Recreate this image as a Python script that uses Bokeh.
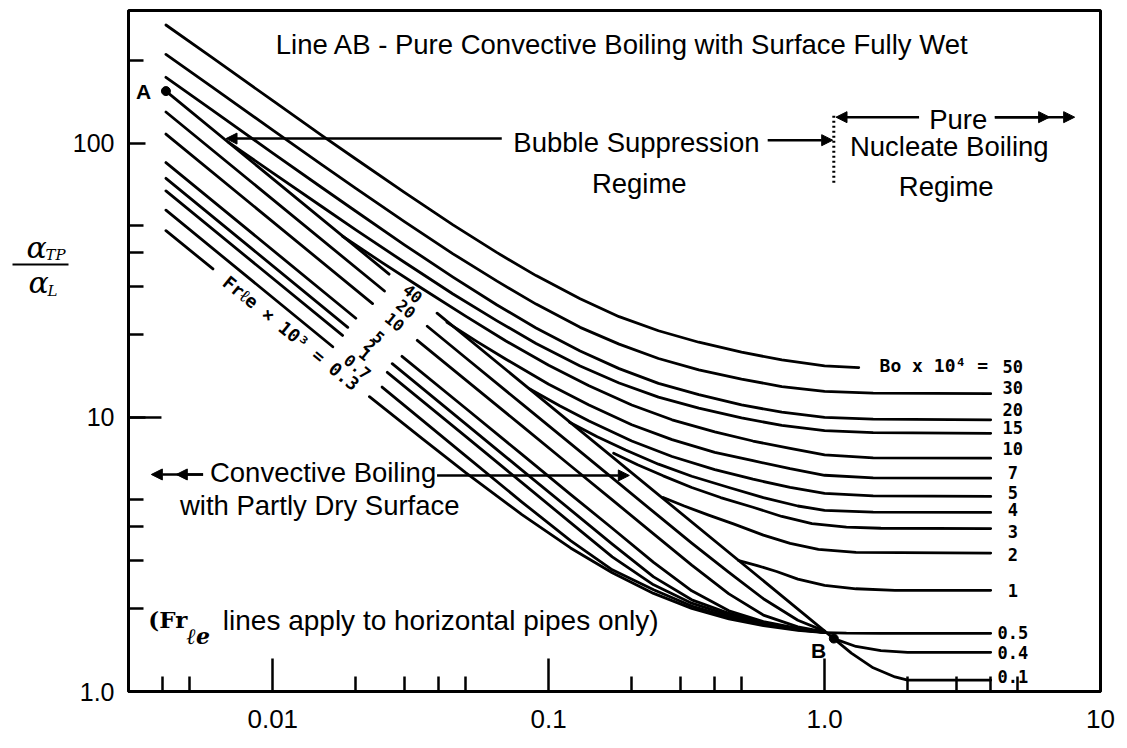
from bokeh.plotting import figure
from bokeh.layouts import row
from bokeh.models import FixedTicker, Arrow, NormalHead, Range1d
from bokeh.core.properties import value
from bokeh.embed import file_html
from bokeh.resources import INLINE

# ---------------- axes ----------------
X_MAJOR = [0.01, 0.1, 1, 10]
X_MINOR = [0.004, 0.005, 0.02, 0.03, 0.04, 0.05, 0.2, 0.3, 0.4, 0.5, 2, 3, 4, 5]
Y_MAJOR = [1, 10, 100]
Y_MINOR = [2, 3, 4, 5, 20, 30, 40, 50, 200]

# ---------------- line AB (also Fr x 10^3 = 40), broken for its label ----------------
AB_X1 = [0.0041, 0.0264]
AB_Y1 = [155, 33.3]
AB_X2 = [0.0394, 1.08]
AB_Y2 = [24.0, 1.56]

# ---------------- Bo x 10^4 curves ----------------
BO50_X = [0.0041, 0.006, 0.01, 0.015, 0.02, 0.03, 0.045, 0.065, 0.09, 0.13, 0.18, 0.25, 0.35, 0.5, 0.7, 1.0, 1.33]
BO50_Y = [270, 206, 143, 107, 87.6, 66.2, 50.4, 39.9, 32.9, 27.1, 23.3, 20.7, 18.8, 17.3, 16.2, 15.4, 15.2]
BO30_X = [0.0041, 0.006, 0.01, 0.015, 0.02, 0.03, 0.045, 0.065, 0.09, 0.13, 0.18, 0.25, 0.35, 0.5, 0.7, 1.0, 1.5, 4.0]
BO30_Y = [211, 161, 111.7, 83.8, 68.5, 51.8, 39.5, 31.4, 25.9, 21.3, 18.5, 16.4, 14.9, 13.8, 12.95, 12.45, 12.25, 12.2]
BO20_X = [0.0041, 0.006, 0.01, 0.015, 0.02, 0.03, 0.045, 0.065, 0.09, 0.13, 0.18, 0.25, 0.35, 0.5, 0.7, 1.0, 1.5, 4.0]
BO20_Y = [174, 132.6, 92.0, 69.1, 56.5, 42.6, 32.5, 25.7, 21.2, 17.45, 15.06, 13.3, 12.1, 11.1, 10.45, 10.0, 9.85, 9.8]
BO15_X = [0.0069, 0.01, 0.015, 0.02, 0.03, 0.045, 0.065, 0.09, 0.13, 0.18, 0.25, 0.35, 0.5, 0.7, 1.0, 1.5, 4.0]
BO15_Y = [101, 78.0, 58.9, 48.3, 36.8, 28.2, 22.5, 18.6, 15.4, 13.35, 11.86, 10.8, 9.95, 9.35, 8.95, 8.8, 8.75]
BO10_X = [0.0179, 0.025, 0.035, 0.05, 0.07, 0.1, 0.14, 0.2, 0.28, 0.4, 0.55, 0.75, 1.0, 1.5, 4.0]
BO10_Y = [45.8, 36.6, 29.4, 23.4, 19.0, 15.5, 13.05, 11.1, 9.8, 8.85, 8.2, 7.7, 7.3, 7.12, 7.1]
BO7_X = [0.0428, 0.055, 0.07, 0.1, 0.14, 0.2, 0.28, 0.4, 0.55, 0.75, 1.0, 1.5, 4.0]
BO7_Y = [22.2, 18.9, 16.3, 13.2, 11.1, 9.4, 8.3, 7.45, 6.95, 6.5, 6.15, 6.02, 6.0]
BO5_X = [0.0854, 0.11, 0.14, 0.2, 0.28, 0.4, 0.55, 0.75, 1.0, 1.5, 4.0]
BO5_Y = [12.7, 11.0, 9.7, 8.2, 7.2, 6.45, 5.95, 5.55, 5.28, 5.17, 5.15]
BO4_X = [0.119, 0.15, 0.19, 0.25, 0.33, 0.45, 0.6, 0.8, 1.0, 1.5, 4.0]
BO4_Y = [9.6, 8.5, 7.6, 6.75, 6.1, 5.55, 5.1, 4.75, 4.58, 4.51, 4.5]
BO3_X = [0.172, 0.21, 0.26, 0.33, 0.42, 0.55, 0.7, 0.9, 1.2, 1.6, 4.0]
BO3_Y = [7.4, 6.72, 6.12, 5.55, 5.1, 4.7, 4.35, 4.1, 3.98, 3.94, 3.93]
BO2_X = [0.26, 0.31, 0.38, 0.47, 0.6, 0.75, 0.95, 1.3, 4.0]
BO2_Y = [5.1, 4.75, 4.4, 4.08, 3.72, 3.47, 3.3, 3.22, 3.2]
BO1_X = [0.489, 0.57, 0.67, 0.8, 1.0, 1.3, 1.8, 4.0]
BO1_Y = [3.0, 2.88, 2.74, 2.57, 2.44, 2.37, 2.34, 2.34]
BO05_X = [1.0, 1.2, 1.6, 4.0]
BO05_Y = [1.64, 1.632, 1.63, 1.63]
BO04_X = [1.08, 1.3, 1.6, 2.0, 4.0]
BO04_Y = [1.56, 1.46, 1.41, 1.39, 1.39]
BO01_X = [1.08, 1.25, 1.5, 1.8, 2.0, 4.0]
BO01_Y = [1.56, 1.38, 1.22, 1.13, 1.10, 1.10]

BO_LABELS = ["50", "30", "20", "15", "10", "7", "5", "4", "3", "2", "1", "0.5", "0.4", "0.1"]
BO_LABEL_Y = [15.3, 12.9, 10.7, 9.2, 7.7, 6.3, 5.3, 4.6, 3.85, 3.15, 2.34, 1.64, 1.39, 1.13]

# ---------------- Fr x 10^3 lines below AB: left part, up to the label gap ----------------
FR_NAMES = ["20", "10", "5", "2", "1", "0.7", "0.3"]
FR_START_X = [0.0041, 0.0041, 0.0041, 0.0041, 0.0041, 0.0041, 0.0041]
FR_START_Y = [130, 108, 85, 74.5, 67, 57, 48]
FR_GAP_X = [0.0254, 0.0230, 0.0200, 0.0187, 0.0179, 0.0165, 0.00607]
FR_GAP_Y = [28.9, 26.0, 23.0, 21.3, 19.9, 18.1, 34.8]

# right part, after the label gap, converging on B
FR20_X = [0.0363, 0.05, 0.08, 0.12, 0.17, 0.24, 0.33, 0.45, 0.6, 0.8, 1.0]
FR20_Y = [21.5, 16.5, 11.2, 8.02, 6.02, 4.52, 3.48, 2.72, 2.18, 1.82, 1.66]
FR10_X = [0.0334, 0.05, 0.08, 0.12, 0.17, 0.24, 0.33, 0.45, 0.6, 0.8, 1.0]
FR10_Y = [19.1, 13.7, 9.31, 6.66, 5.0, 3.76, 2.89, 2.27, 1.9, 1.72, 1.65]
FR5_X = [0.0294, 0.05, 0.08, 0.12, 0.17, 0.24, 0.33, 0.45, 0.6, 0.8, 1.0]
FR5_Y = [16.7, 10.8, 7.33, 5.24, 3.94, 2.96, 2.33, 1.97, 1.8, 1.7, 1.645]
FR2_X = [0.0271, 0.05, 0.08, 0.12, 0.17, 0.24, 0.33, 0.45, 0.6, 0.8, 1.0]
FR2_Y = [15.7, 9.47, 6.42, 4.60, 3.45, 2.62, 2.16, 1.93, 1.785, 1.69, 1.645]
FR1_X = [0.026, 0.05, 0.08, 0.12, 0.17, 0.24, 0.33, 0.45, 0.6, 0.8, 1.0]
FR1_Y = [14.6, 8.52, 5.78, 4.13, 3.10, 2.45, 2.10, 1.90, 1.77, 1.685, 1.645]
FR07_X = [0.0249, 0.05, 0.08, 0.12, 0.17, 0.24, 0.33, 0.45, 0.6, 0.8, 1.0]
FR07_Y = [12.9, 7.24, 4.91, 3.55, 2.78, 2.35, 2.05, 1.87, 1.755, 1.68, 1.645]
FR03_X = [0.0224, 0.035, 0.05, 0.08, 0.12, 0.17, 0.24, 0.33, 0.45, 0.6, 0.8, 1.0]
FR03_Y = [11.9, 8.33, 6.29, 4.42, 3.34, 2.71, 2.28, 2.01, 1.84, 1.74, 1.67, 1.64]

FR_LABELS = ["40", "20", "10", "5", "2", "1", "0.7"]
FR_LABEL_X = [0.0322, 0.0304, 0.0277, 0.0242, 0.0225, 0.0216, 0.0203]
FR_LABEL_Y = [28.3, 24.9, 22.3, 19.6, 18.3, 17.0, 15.3]

# ---------------- main figure ----------------
p = figure(width=1058, height=748, x_axis_type="log", y_axis_type="log",
           x_range=(0.003, 10), y_range=(1, 305),
           output_backend="svg", toolbar_location=None,
           min_border_left=56, min_border_right=27, min_border_top=10, min_border_bottom=57)
p.background_fill_color = "white"
p.border_fill_color = "white"
p.outline_line_color = "black"
p.outline_line_width = 3
p.xgrid.visible = False
p.ygrid.visible = False

p.xaxis.ticker = FixedTicker(ticks=X_MAJOR, minor_ticks=X_MINOR)
p.yaxis.ticker = FixedTicker(ticks=Y_MAJOR, minor_ticks=Y_MINOR)
p.xaxis.major_label_overrides = {0.01: "0.01", 0.1: "0.1", 1: "1.0", 10: "10"}
p.yaxis.major_label_overrides = {1: "1.0", 10: "10", 100: "100"}
for ax in (p.xaxis[0], p.yaxis[0]):
    ax.axis_line_width = 3
    ax.axis_line_color = "black"
    ax.major_tick_out = 0
    ax.minor_tick_in = 15
    ax.minor_tick_out = 0
    ax.major_tick_line_width = 2.5
    ax.minor_tick_line_width = 2.5
    ax.major_tick_line_color = "black"
    ax.minor_tick_line_color = "black"
    ax.major_label_text_font = "Liberation Sans"
    ax.major_label_text_color = "black"
p.xaxis.major_tick_in = 33
p.yaxis.major_tick_in = 17
p.xaxis.major_label_text_font_size = "26px"
p.yaxis.major_label_text_font_size = "25px"
p.xaxis.major_label_standoff = 18
p.yaxis.major_label_standoff = 14

# the long inward tick at 10 on the y axis
p.segment(x0=[0.003], y0=[10], x1=[0.00395], y1=[10], line_color="black", line_width=2.5)

LW = 2.8
xs, ys = [], []
for cx, cy in [(AB_X1, AB_Y1), (AB_X2, AB_Y2),
               (BO50_X, BO50_Y), (BO30_X, BO30_Y), (BO20_X, BO20_Y), (BO15_X, BO15_Y),
               (BO10_X, BO10_Y), (BO7_X, BO7_Y), (BO5_X, BO5_Y), (BO4_X, BO4_Y),
               (BO3_X, BO3_Y), (BO2_X, BO2_Y), (BO1_X, BO1_Y), (BO05_X, BO05_Y),
               (BO04_X, BO04_Y), (BO01_X, BO01_Y),
               (FR20_X, FR20_Y), (FR10_X, FR10_Y), (FR5_X, FR5_Y), (FR2_X, FR2_Y),
               (FR1_X, FR1_Y), (FR07_X, FR07_Y), (FR03_X, FR03_Y)]:
    xs.append(cx)
    ys.append(cy)
for i in range(len(FR_NAMES)):
    xs.append([FR_START_X[i], FR_GAP_X[i]])
    ys.append([FR_START_Y[i], FR_GAP_Y[i]])
p.multi_line(xs, ys, line_color="black", line_width=LW, line_join="round", line_cap="round")

# points A and B
p.scatter([AB_X1[0], AB_X2[1]], [AB_Y1[0], AB_Y2[1]], size=9, color="black")

# dotted boundary of the nucleate regime
p.line([1.08, 1.08], [126, 70.3], line_color="black", line_width=3, line_dash="2 3")

SANS = value("Liberation Sans")
MONO = value("DejaVu Sans Mono")
FS = "27.5px"

p.text(x=[0.01025], y=[230], text=["Line AB - Pure Convective Boiling with Surface Fully Wet"],
       text_font=SANS, text_font_size=FS, text_align="left", text_baseline="middle")
p.text(x=[0.208, 0.213], y=[101, 71.5], text=["Bubble Suppression", "Regime"],
       text_font=SANS, text_font_size=FS, text_align="center", text_baseline="middle")
p.text(x=[3.05, 2.83, 2.76], y=[122, 97.5, 69.7], text=["Pure", "Nucleate Boiling", "Regime"],
       text_font=SANS, text_font_size=FS, text_align="center", text_baseline="middle")
p.text(x=[0.00592], y=[6.3], text=["Convective Boiling"],
       text_font=SANS, text_font_size=FS, text_align="left", text_baseline="middle")
p.text(x=[0.0148], y=[4.77], text=["with Partly Dry Surface"],
       text_font=SANS, text_font_size=FS, text_align="center", text_baseline="middle")
p.text(x=[0.00354], y=[1.83], text=["(Fr"],
       text_font=value("DejaVu Serif"), text_font_size="23px", text_font_style="bold",
       text_align="left", text_baseline="middle")
p.text(x=[0.00487], y=[1.59], text=["ℓe"],
       text_font=value("DejaVu Serif"), text_font_size="22px", text_font_style="bold italic",
       text_align="left", text_baseline="middle")
p.text(x=[0.00659], y=[1.82], text=["lines apply to horizontal pipes only)"],
       text_font=SANS, text_font_size="28px", text_align="left", text_baseline="middle")
p.text(x=[0.0034, 0.951], y=[155, 1.41], text=["A", "B"],
       text_font=SANS, text_font_size="21px", text_font_style="bold",
       text_align="center", text_baseline="middle")

# Bo labels
p.text(x=[3.91], y=[15.4], text=["Bo x 10⁴ ="], text_font=MONO, text_font_size="18px",
       text_font_style="bold", text_align="right", text_baseline="middle")
p.text(x=[4.81] * len(BO_LABELS), y=BO_LABEL_Y, text=BO_LABELS, text_font=MONO,
       text_font_size="17px", text_font_style="bold", text_align="center", text_baseline="middle")

# Fr labels written along the lines
ANG = -0.684
p.text(x=FR_LABEL_X, y=FR_LABEL_Y, text=FR_LABELS, angle=ANG, text_font=MONO,
       text_font_size="16px", text_font_style="bold", text_align="center", text_baseline="middle")
p.text(x=[0.01165], y=[20.3], text=["Frℓe × 10³ = 0.3"], angle=ANG, text_font=MONO,
       text_font_size="18px", text_font_style="bold", text_align="center", text_baseline="middle")


def arrow(x0, y0, x1, y1):
    p.add_layout(Arrow(x_start=x0, y_start=y0, x_end=x1, y_end=y1, line_width=2.5,
                       line_color="black", start=None,
                       end=NormalHead(size=11, fill_color="black", line_color="black")))


arrow(0.0676, 104, 0.00677, 104)
arrow(0.622, 102.6, 1.07, 102.6)
arrow(2.2, 124.5, 1.1, 124.5)
arrow(4.14, 124.5, 8.06, 124.5)
arrow(4.14, 124.5, 6.54, 124.5)
arrow(0.00559, 6.19, 0.00363, 6.19)
arrow(0.00559, 6.19, 0.00447, 6.19)
arrow(0.0394, 6.14, 0.196, 6.14)

# ---------------- left strip carrying the y title (alpha_TP / alpha_L) ----------------
q = figure(width=69, height=748, x_range=Range1d(0, 69), y_range=Range1d(748, 0),
           output_backend="svg", toolbar_location=None,
           x_axis_location=None, y_axis_location=None,
           min_border_left=0, min_border_right=0, min_border_top=0, min_border_bottom=0)
q.outline_line_color = None
q.xgrid.visible = False
q.ygrid.visible = False
q.background_fill_color = "white"
q.border_fill_color = "white"
SERIF = value("DejaVu Serif")
q.text(x=[26, 28], y=[260, 299], text=["α", "α"], text_font=SERIF, text_font_style="italic",
       text_font_size="30px", text_align="left", text_baseline="middle")
q.text(x=[45, 47], y=[269, 308], text=["TP", "L"], text_font=SERIF, text_font_style="italic",
       text_font_size="15px", text_align="left", text_baseline="middle")
q.line([12, 68], [279, 279], line_color="black", line_width=2)

layout = row(q, p)
open("out.html", "w").write(file_html(layout, INLINE))
